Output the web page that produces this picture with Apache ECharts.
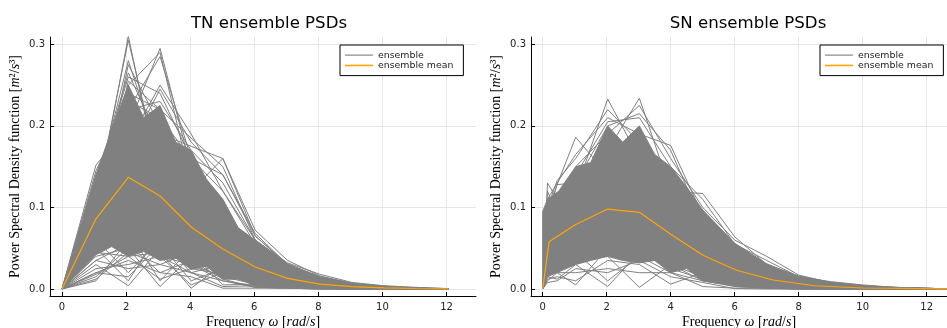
<!DOCTYPE html>
<html>
<head>
<meta charset="utf-8">
<script src="https://cdn.jsdelivr.net/npm/echarts@6/dist/echarts.min.js"></script>
<style>html,body{margin:0;padding:0;background:#fff;}#c{width:947px;height:328px;}</style>
</head>
<body>
<div id="c"></div>
<script>
// ---------- data ----------
const xTicks = [0, 2, 4, 6, 8, 10, 12];
const yTicks = [0, 0.1, 0.2, 0.3];

// TN ensemble (frequency grid and member curves)
const tnX = [0, 1.06, 2.07, 3.06, 4.03, 5.02, 6.03, 7.04, 8.05, 9.05, 10.05, 11.05, 12.05];
const tnLines = [
  [0, 0.10, 0.310, 0.126, 0.10, 0.05, 0.03, 0.012, 0.006, 0.003, 0.001, 0.0005, 0],
  [0, 0.11, 0.305, 0.14, 0.09, 0.06, 0.025, 0.01, 0.005, 0.002, 0.001, 0, 0],
  [0, 0.12, 0.280, 0.16, 0.11, 0.07, 0.03, 0.015, 0.007, 0.003, 0.001, 0, 0],
  [0, 0.09, 0.275, 0.20, 0.12, 0.05, 0.035, 0.014, 0.006, 0.003, 0.0015, 0.0005, 0],
  [0, 0.13, 0.265, 0.18, 0.14, 0.08, 0.04, 0.02, 0.008, 0.004, 0.002, 0.001, 0],
  [0, 0.08, 0.255, 0.22, 0.13, 0.09, 0.05, 0.02, 0.01, 0.004, 0.002, 0.001, 0],
  [0, 0.07, 0.20, 0.295, 0.147, 0.09, 0.05, 0.02, 0.01, 0.004, 0.002, 0.001, 0],
  [0, 0.09, 0.22, 0.285, 0.16, 0.10, 0.045, 0.02, 0.008, 0.003, 0.001, 0, 0],
  [0, 0.10, 0.25, 0.29, 0.13, 0.08, 0.04, 0.018, 0.008, 0.004, 0.002, 0.001, 0],
  [0, 0.11, 0.18, 0.25, 0.19, 0.12, 0.06, 0.025, 0.012, 0.005, 0.002, 0.001, 0],
  [0, 0.12, 0.17, 0.245, 0.18, 0.14, 0.065, 0.03, 0.014, 0.006, 0.003, 0.001, 0],
  [0, 0.152, 0.20, 0.19, 0.175, 0.16, 0.072, 0.035, 0.016, 0.007, 0.003, 0.001, 0],
  [0, 0.145, 0.23, 0.21, 0.16, 0.14, 0.068, 0.03, 0.015, 0.006, 0.003, 0.001, 0],
  [0, 0.14, 0.22, 0.23, 0.17, 0.13, 0.06, 0.028, 0.012, 0.005, 0.002, 0.001, 0],
  [0, 0.06, 0.24, 0.22, 0.185, 0.15, 0.06, 0.032, 0.018, 0.008, 0.004, 0.002, 0.0005],
  [0, 0.09, 0.15, 0.17, 0.12, 0.16, 0.065, 0.03, 0.012, 0.005, 0.002, 0.001, 0],
  [0, 0.13, 0.26, 0.24, 0.16, 0.12, 0.055, 0.025, 0.012, 0.005, 0.002, 0.001, 0],
  [0, 0.01, 0.06, 0.04, 0.02, 0.01, 0.004, 0.002, 0.001, 0, 0, 0, 0],
  [0, 0.015, 0.05, 0.06, 0.03, 0.015, 0.006, 0.002, 0.001, 0, 0, 0, 0],
  [0, 0.03, 0.004, 0.05, 0.035, 0.02, 0.008, 0.003, 0.001, 0, 0, 0, 0],
  [0, 0.05, 0.01, 0.07, 0.04, 0.02, 0.01, 0.004, 0.002, 0.001, 0, 0, 0],
  [0, 0.04, 0.05, 0.003, 0.04, 0.03, 0.01, 0.004, 0.002, 0.001, 0, 0, 0],
  [0, 0.06, 0.07, 0.01, 0.05, 0.02, 0.008, 0.003, 0.001, 0, 0, 0, 0],
  [0, 0.045, 0.04, 0.045, 0.001, 0.03, 0.012, 0.005, 0.002, 0.001, 0, 0, 0],
  [0, 0.05, 0.06, 0.04, 0.005, 0.02, 0.005, 0.002, 0.001, 0, 0, 0, 0],
  [0, 0.035, 0.025, 0.03, 0.02, 0.003, 0.004, 0.002, 0.001, 0, 0, 0, 0],
  [0, 0.02, 0.035, 0.02, 0.015, 0.001, 0.001, 0.001, 0, 0, 0, 0, 0],
  [0, 0.025, 0.03, 0.04, 0.03, 0.01, 0.002, 0.001, 0, 0, 0, 0, 0],
  [0, 0.06, 0.02, 0.06, 0.02, 0.03, 0.01, 0.004, 0.002, 0.001, 0, 0, 0],
  [0, 0.012, 0.045, 0.03, 0.045, 0.005, 0.006, 0.002, 0.001, 0, 0, 0, 0],
  [0, 0.02, 0.015, 0.055, 0.01, 0.025, 0.003, 0.002, 0.001, 0, 0, 0, 0],
  [0, 0.035, 0.055, 0.02, 0.035, 0.012, 0.002, 0.001, 0, 0, 0, 0, 0],
  [0, 0.018, 0.04, 0.012, 0.025, 0.018, 0.007, 0.003, 0.001, 0, 0, 0, 0]
];
// TN dense core of the ensemble (lower / upper edge)
const tnBandX = [0, 1.06, 1.55, 2.07, 2.55, 3.06, 3.55, 4.03, 4.5, 5.02, 5.5, 6.03, 7.04, 8.05, 9.05, 10.05, 11.05, 12.05];
const tnBandHi = [0, 0.14, 0.195, 0.25, 0.21, 0.225, 0.18, 0.17, 0.135, 0.11, 0.075, 0.06, 0.031, 0.015, 0.007, 0.0035, 0.0015, 0.0005];
const tnBandLo = [0, 0.042, 0.052, 0.04, 0.046, 0.035, 0.038, 0.024, 0.028, 0.012, 0.012, 0.005, 0.002, 0.001, 0.0005, 0, 0, 0];
// TN ensemble mean
const tnMeanX = [0, 1.06, 2.07, 3.06, 4.03, 5.02, 6.03, 7.04, 8.05, 9.05, 10.05, 11.05, 12.05];
const tnMean = [0, 0.086, 0.137, 0.114, 0.076, 0.049, 0.027, 0.013, 0.006, 0.003, 0.0013, 0.0006, 0.0002];

// SN ensemble
const snX = [0, 0.15, 0.45, 1.03, 2.03, 3.02, 4.0, 5.0, 6.0, 7.0, 8.0, 9.0, 10.0, 11.0, 12.0, 12.65];
const snLines = [
  [0, 0.07, 0.09, 0.12, 0.233, 0.16, 0.10, 0.06, 0.03, 0.015, 0.008, 0.004, 0.002, 0.001, 0.0005, 0],
  [0, 0.08, 0.10, 0.11, 0.17, 0.234, 0.12, 0.07, 0.035, 0.018, 0.009, 0.004, 0.002, 0.001, 0.0005, 0],
  [0, 0.09, 0.128, 0.186, 0.14, 0.15, 0.10, 0.05, 0.03, 0.015, 0.007, 0.003, 0.0015, 0.001, 0.0005, 0],
  [0, 0.11, 0.13, 0.165, 0.21, 0.19, 0.176, 0.09, 0.05, 0.025, 0.012, 0.006, 0.003, 0.0015, 0.0005, 0],
  [0, 0.10, 0.133, 0.16, 0.22, 0.18, 0.12, 0.117, 0.064, 0.03, 0.014, 0.007, 0.003, 0.0015, 0.0005, 0],
  [0, 0.12, 0.09, 0.15, 0.19, 0.225, 0.16, 0.10, 0.06, 0.04, 0.017, 0.008, 0.004, 0.002, 0.001, 0],
  [0, 0.13, 0.11, 0.14, 0.205, 0.21, 0.15, 0.11, 0.055, 0.035, 0.015, 0.009, 0.005, 0.002, 0.001, 0],
  [0, 0.09, 0.128, 0.13, 0.20, 0.215, 0.17, 0.08, 0.05, 0.03, 0.016, 0.008, 0.004, 0.002, 0.001, 0],
  [0, 0.01, 0.02, 0.005, 0.05, 0.04, 0.03, 0.015, 0.005, 0.002, 0.001, 0, 0, 0, 0, 0],
  [0, 0.015, 0.012, 0.03, 0.003, 0.045, 0.025, 0.012, 0.004, 0.002, 0.001, 0, 0, 0, 0, 0],
  [0, 0.02, 0.03, 0.04, 0.04, 0.002, 0.03, 0.01, 0.004, 0.002, 0.001, 0, 0, 0, 0, 0],
  [0, 0.012, 0.015, 0.01, 0.035, 0.03, 0.006, 0.02, 0.003, 0.001, 0, 0, 0, 0, 0, 0],
  [0, 0.03, 0.02, 0.02, 0.025, 0.02, 0.02, 0.003, 0.001, 0.001, 0, 0, 0, 0, 0, 0],
  [0, 0.008, 0.01, 0.025, 0.02, 0.035, 0.015, 0.008, 0.0005, 0, 0, 0, 0, 0, 0, 0],
  [0, 0.04, 0.025, 0.045, 0.01, 0.04, 0.02, 0.01, 0.003, 0.001, 0, 0, 0, 0, 0, 0]
];
const snBandX = [0, 0.15, 0.5, 1.03, 1.5, 2.03, 2.5, 3.02, 3.5, 4.0, 4.5, 5.0, 6.0, 7.0, 8.0, 9.0, 10.0, 11.0, 12.0, 12.65];
const snBandHi = [0.095, 0.11, 0.12, 0.15, 0.155, 0.20, 0.18, 0.20, 0.165, 0.15, 0.125, 0.097, 0.056, 0.031, 0.015, 0.008, 0.004, 0.002, 0.0008, 0.0003];
const snBandLo = [0, 0.015, 0.021, 0.03, 0.035, 0.04, 0.035, 0.032, 0.035, 0.02, 0.025, 0.01, 0.004, 0.002, 0.001, 0.0005, 0, 0, 0, 0];
const snMeanX = [0, 0.2, 1.03, 2.03, 3.02, 4.0, 5.02, 6.06, 7.2, 8.5, 10.0, 12.65];
const snMean = [0, 0.058, 0.079, 0.098, 0.094, 0.067, 0.041, 0.023, 0.011, 0.004, 0.0012, 0.0002];

// ---------- chart ----------
const GRAY = '#808080';
const ORANGE = '#FFA500';
const pairs = (xs, ys) => xs.map((x, i) => [x, ys[i]]);

function bandSeries(xs, lo, hi, idx) {
  return {
    type: 'custom', name: 'band', xAxisIndex: idx, yAxisIndex: idx, silent: true, clip: true, z: 1,
    animation: false, data: [[xs[0], lo[0]]],
    renderItem: function (params, api) {
      const pts = [];
      for (let i = 0; i < xs.length; i++) pts.push(api.coord([xs[i], hi[i]]));
      for (let i = xs.length - 1; i >= 0; i--) pts.push(api.coord([xs[i], lo[i]]));
      return { type: 'polygon', shape: { points: pts }, style: { fill: GRAY, stroke: GRAY, lineWidth: 1 } };
    }
  };
}
function lineSeries(name, xs, ys, idx, color, width, z) {
  return {
    type: 'line', name: name, xAxisIndex: idx, yAxisIndex: idx, data: pairs(xs, ys),
    symbol: 'none', showSymbol: false, silent: true, animation: false, z: z,
    lineStyle: { color: color, width: width }, itemStyle: { color: color }
  };
}

const series = [];
tnLines.forEach(l => series.push(lineSeries('ensemble', tnX, l, 0, GRAY, 1, 2)));
snLines.forEach(l => series.push(lineSeries('ensemble', snX, l, 1, GRAY, 1, 2)));
series.push(bandSeries(tnBandX, tnBandLo, tnBandHi, 0));
series.push(bandSeries(snBandX, snBandLo, snBandHi, 1));
series.push(lineSeries('ensemble mean', tnMeanX, tnMean, 0, ORANGE, 1.2, 5));
series.push(lineSeries('ensemble mean', snMeanX, snMean, 1, ORANGE, 1.2, 5));

const serifRich = {
  r: { fontFamily: 'Liberation Serif', fontSize: 14, color: '#000' },
  i: { fontFamily: 'Liberation Serif', fontStyle: 'italic', fontSize: 14, color: '#000' }
};
const xName = '{r|Frequency }{i|ω}{r| [}{i|rad}{r|/}{i|s}{r|]}';
const yName = '{r|Power Spectral Density function [}{i|m}{r|²/}{i|s}{r|³]}';

function xAxis(idx, min, max) {
  return {
    type: 'value', gridIndex: idx, min: min, max: max,
    name: xName, nameLocation: 'middle', nameGap: 19, nameMoveOverlap: false,
    nameTextStyle: { rich: serifRich },
    axisLine: { show: true, onZero: false, lineStyle: { color: '#000', width: 1 } },
    axisTick: { show: true, inside: true, length: 4, customValues: xTicks, lineStyle: { color: '#000' } },
    axisLabel: { show: true, customValues: xTicks, margin: 6, fontFamily: 'DejaVu Sans', fontSize: 10, color: '#222',
      formatter: v => String(v) },
    splitLine: { show: true, lineStyle: { color: '#e6e6e6', width: 1 } }
  };
}
function yAxis(idx) {
  return {
    type: 'value', gridIndex: idx, min: -0.0086, max: 0.309,
    name: yName, nameLocation: 'middle', nameGap: 28, nameRotate: 90, nameMoveOverlap: false,
    nameTextStyle: { rich: serifRich },
    axisLine: { show: true, onZero: false, lineStyle: { color: '#000', width: 1 } },
    axisTick: { show: true, inside: true, length: 4, customValues: yTicks, lineStyle: { color: '#000' } },
    axisLabel: { show: true, customValues: yTicks, margin: 5, fontFamily: 'DejaVu Sans', fontSize: 10, color: '#222',
      formatter: v => v.toFixed(1) },
    splitLine: { show: true, lineStyle: { color: '#e6e6e6', width: 1 } }
  };
}
function legend(left) {
  return {
    data: [
      { name: 'ensemble', icon: 'rect', itemStyle: { color: '#a6a6a6' } },
      { name: 'ensemble mean', icon: 'rect', itemStyle: { color: ORANGE } }
    ],
    orient: 'vertical', left: left, top: 45,
    backgroundColor: '#fff', borderColor: '#000', borderWidth: 1, borderRadius: 0,
    padding: [5, 10, 5, 5], itemGap: 0, itemWidth: 28, itemHeight: 1.6, selectedMode: false,
    textStyle: { fontFamily: 'DejaVu Sans', fontSize: 9.4, color: '#222', lineHeight: 10.3 }
  };
}

const chart = echarts.init(document.getElementById('c'), null, { renderer: 'canvas' });
chart.setOption({
  animation: false,
  backgroundColor: '#fff',
  title: [
    { text: 'TN ensemble PSDs', left: 264, top: 10, textAlign: 'center',
      textStyle: { fontFamily: 'DejaVu Sans', fontSize: 16.6, fontWeight: 'normal', color: '#000' } },
    { text: 'SN ensemble PSDs', left: 743, top: 10, textAlign: 'center',
      textStyle: { fontFamily: 'DejaVu Sans', fontSize: 16.6, fontWeight: 'normal', color: '#000' } }
  ],
  legend: [legend(340), legend(820)],
  grid: [
    { left: 50, top: 37, width: 426, height: 259, outerBoundsMode: 'none', containLabel: false },
    { left: 531, top: 37, width: 416, height: 259, outerBoundsMode: 'none', containLabel: false }
  ],
  xAxis: [xAxis(0, -0.375, 12.92), xAxis(1, -0.366, 12.634)],
  yAxis: [yAxis(0), yAxis(1)],
  series: series
});
</script>
</body>
</html>
